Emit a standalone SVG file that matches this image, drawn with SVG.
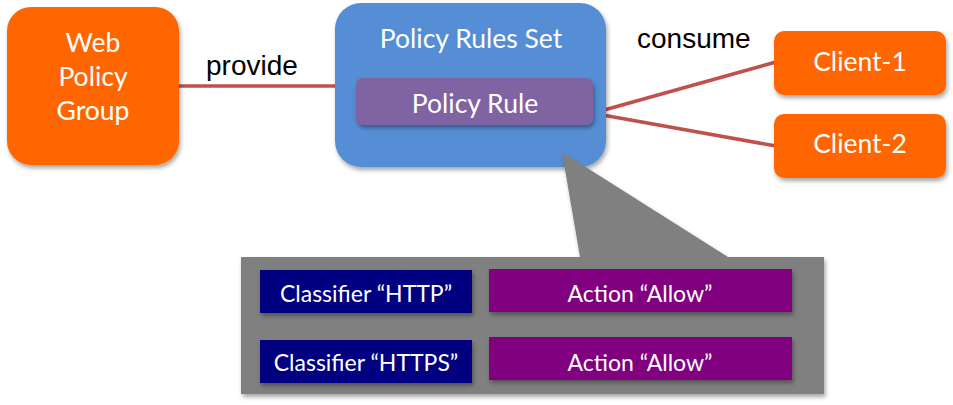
<svg xmlns="http://www.w3.org/2000/svg" width="953" height="405" viewBox="0 0 953 405">
<defs>
<filter id="sh" x="-10%" y="-10%" width="130%" height="140%">
<feDropShadow dx="1.5" dy="3" stdDeviation="2" flood-color="#000" flood-opacity="0.35"/>
</filter>
</defs>
<style>
.t{font-family:Lato,"Open Sans","Liberation Sans",sans-serif;fill:#fff;text-anchor:middle}
.b{font-size:26.5px}
.s{font-size:23px}
.lbl{font-family:"Liberation Sans",Arial,sans-serif;font-size:28px;fill:#000}
.orange{fill:#ff6600}
.conn{stroke:#c0504d;stroke-width:3.5;fill:none}
</style>
<rect width="953" height="405" fill="#fff"/>
<g id="connectors">
<line class="conn" x1="179" y1="86" x2="337" y2="86"/>
<line class="conn" x1="597" y1="112" x2="776" y2="62"/>
<line class="conn" x1="597" y1="114" x2="776" y2="146"/>
</g>
<g id="web-policy-group">
<rect class="orange" x="7" y="7" width="172" height="158" rx="24" filter="url(#sh)"/>
<text class="t b" x="93" y="52">Web</text>
<text class="t b" x="93" y="86">Policy</text>
<text class="t b" x="93" y="120">Group</text>
</g>
<text class="lbl" x="206" y="75">provide</text>
<text class="lbl" x="637" y="48">consume</text>
<g id="policy-rules-set">
<rect x="335" y="3" width="271" height="164" rx="26" fill="#558ed5" filter="url(#sh)"/>
<text class="t b" x="471" y="48">Policy Rules Set</text>
</g>
<g id="policy-rule">
<rect x="356" y="78" width="237" height="47" rx="7" fill="#8064a2" filter="url(#sh)"/>
<text class="t b" x="475" y="113">Policy Rule</text>
</g>
<g id="client-1">
<rect class="orange" x="774" y="31" width="172" height="64" rx="10" filter="url(#sh)"/>
<text class="t b" x="860" y="71">Client-1</text>
</g>
<g id="client-2">
<rect class="orange" x="774" y="114" width="172" height="64" rx="10" filter="url(#sh)"/>
<text class="t b" x="860" y="153">Client-2</text>
</g>
<g id="rule-detail">
<path d="M241,257 H580 L562,152 L728,257 H824 V394 H241 Z" fill="#808080" filter="url(#sh)"/>
<rect x="260" y="270" width="212" height="43" fill="#000080" filter="url(#sh)"/>
<text class="t s" x="366" y="302">Classifier “HTTP”</text>
<rect x="489" y="269" width="303" height="43" fill="#800080" filter="url(#sh)"/>
<text class="t s" x="640" y="302">Action “Allow”</text>
<rect x="260" y="340" width="212" height="43" fill="#000080" filter="url(#sh)"/>
<text class="t s" x="366" y="371">Classifier “HTTPS”</text>
<rect x="489" y="337" width="303" height="43" fill="#800080" filter="url(#sh)"/>
<text class="t s" x="640" y="371">Action “Allow”</text>
</g>
</svg>
